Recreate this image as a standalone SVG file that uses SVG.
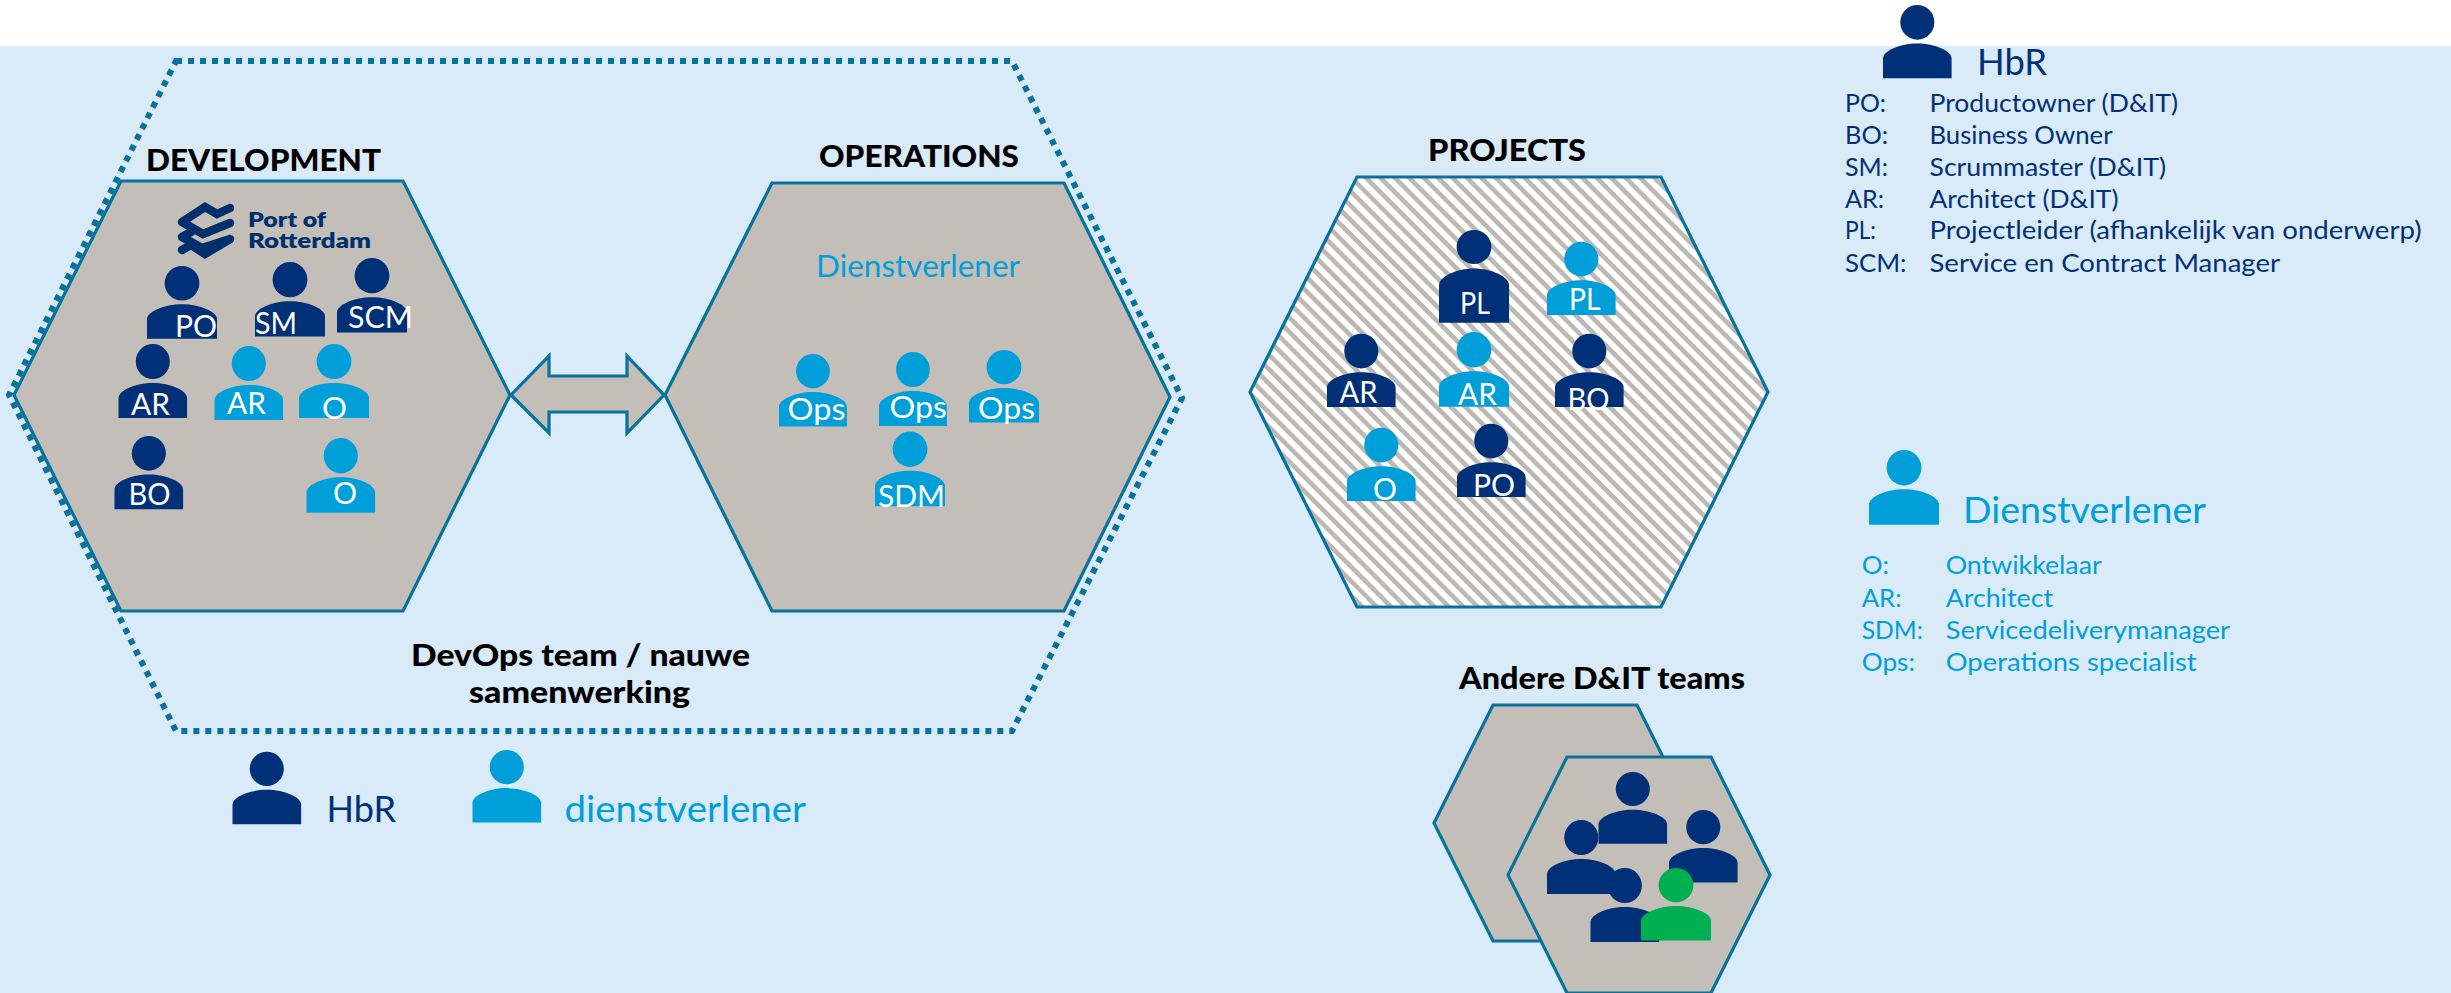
<svg xmlns="http://www.w3.org/2000/svg" width="2451" height="993" viewBox="0 0 2451 993">
<style>
text{font-family:"Lato","Open Sans","Liberation Sans",sans-serif}
.hex{fill:#c3beb8;stroke:#08729c;stroke-width:3.2;stroke-linejoin:miter}
.dark{fill:#003077}
.light{fill:#009fda}
.green{fill:#00b050}
.w{fill:#fff;font-size:30px}
.h{fill:#000;font-size:30px;font-weight:900}
.d{fill:#003077}
.l{fill:#009fda}
.t{font-size:25px}
.b{font-size:37px}
.logo{fill:none;stroke:#00306b;stroke-width:8.5;stroke-linecap:round;stroke-linejoin:miter}
</style>
<defs>
<g id="person"><ellipse cx="35" cy="17.7" rx="17.4" ry="17.7"/><path d="M0 74.7V54.5C0 47 17 39.3 35 39.3S70 47 70 54.5V74.7Z"/></g>
<pattern id="hatch" width="10.2" height="10.2" patternUnits="userSpaceOnUse" patternTransform="translate(1362 177) rotate(-45)"><rect width="10.2" height="10.2" fill="#fff"/><rect width="4.6" height="10.2" fill="#bdb8b2"/></pattern>
</defs>
<rect width="2451" height="993" fill="#d9eaf8"/>
<rect width="2451" height="46" fill="#fff"/>
<g id="devops-team"><polygon points="176,61 1012,61 1182,398 1012,731 176,731 9,395" fill="none" stroke="#08729c" stroke-width="6" stroke-dasharray="6 6"/>
<text class="h" x="411" y="666" textLength="339" lengthAdjust="spacingAndGlyphs">DevOps team / nauwe</text><text class="h" x="469" y="703" textLength="221" lengthAdjust="spacingAndGlyphs">samenwerking</text></g>
<g id="development"><polygon class="hex" points="121,181 403,181 510,395 403,611 121,611 14,395"/><text class="h" x="146" y="171" textLength="235" lengthAdjust="spacingAndGlyphs">DEVELOPMENT</text></g>
<g id="operations"><polygon class="hex" points="772,183 1064,183 1170,397 1064,611 772,611 665,395"/><text class="h" x="819" y="167" textLength="200" lengthAdjust="spacingAndGlyphs">OPERATIONS</text><text class="l" font-size="30" x="816" y="277" textLength="204" lengthAdjust="spacingAndGlyphs">Dienstverlener</text></g>
<g id="connectors"><polygon points="511,395 549,356 549,376 627,376 627,356 664,395 627,433 627,412 549,412 549,433" fill="#c3beb8" stroke="#08729c" stroke-width="3.2"/></g>
<g id="port-of-rotterdam"><path class="logo" d="M182 222L205 207 217 214 230 208M182 222L203 234 230 223M182 237L191 232M182 237L202 248 230 239M182 250L191 245 205 254 230 239"/><text x="248" y="226.5" font-size="21" font-weight="800" fill="#00306b" textLength="78" lengthAdjust="spacingAndGlyphs">Port of</text><text x="248" y="248" font-size="21" font-weight="800" fill="#00306b" textLength="123" lengthAdjust="spacingAndGlyphs">Rotterdam</text></g>
<g id="dev-po"><use href="#person" class="dark" transform="translate(147,266) scale(1,.973)"/><text class="w" x="175" y="336.6" textLength="42" lengthAdjust="spacingAndGlyphs">PO</text></g>
<g id="dev-sm"><use href="#person" class="dark" transform="translate(255,262) scale(1,.998)"/><text class="w" x="255" y="333.5" textLength="42" lengthAdjust="spacingAndGlyphs">SM</text></g>
<g id="dev-scm"><use href="#person" class="dark" transform="translate(337,258) scale(1,.998)"/><text class="w" x="348" y="328" textLength="65" lengthAdjust="spacingAndGlyphs">SCM</text></g>
<g id="dev-ar1"><use href="#person" class="dark" transform="translate(118.5,344) scale(.98,.99)"/><text class="w" x="131" y="415" textLength="39" lengthAdjust="spacingAndGlyphs">AR</text></g>
<g id="dev-ar2"><use href="#person" class="light" transform="translate(214.5,346) scale(.98,.99)"/><text class="w" x="227" y="413.5" textLength="39" lengthAdjust="spacingAndGlyphs">AR</text></g>
<g id="dev-o1"><use href="#person" class="light" transform="translate(299,344) scale(1,.99)"/><text class="w" x="322" y="419" textLength="25" lengthAdjust="spacingAndGlyphs">O</text></g>
<g id="dev-bo"><use href="#person" class="dark" transform="translate(114.5,436) scale(.98,.98)"/><text class="w" x="128.5" y="505" textLength="42" lengthAdjust="spacingAndGlyphs">BO</text></g>
<g id="dev-o2"><use href="#person" class="light" transform="translate(306.5,438) scale(.98,1)"/><text class="w" x="333" y="504" textLength="24" lengthAdjust="spacingAndGlyphs">O</text></g>
<g id="ops-1"><use href="#person" class="light" transform="translate(779,354) scale(.97,.97)"/><text class="w" x="787.5" y="420" textLength="58" lengthAdjust="spacingAndGlyphs">Ops</text></g>
<g id="ops-2"><use href="#person" class="light" transform="translate(879,352) scale(.97,.99)"/><text class="w" x="889.5" y="418" textLength="57.5" lengthAdjust="spacingAndGlyphs">Ops</text></g>
<g id="ops-3"><use href="#person" class="light" transform="translate(969,350) scale(1,.97)"/><text class="w" x="978" y="419" textLength="57" lengthAdjust="spacingAndGlyphs">Ops</text></g>
<g id="ops-sdm"><use href="#person" class="light" transform="translate(875,431.5) scale(1,1)"/><text class="w" x="878" y="507" textLength="67" lengthAdjust="spacingAndGlyphs">SDM</text></g>
<g id="projects"><polygon class="hex" points="1357,177 1661,177 1768,392 1661,607 1357,607 1250,392" style="fill:url(#hatch)"/><text class="h" x="1428" y="161" textLength="158" lengthAdjust="spacingAndGlyphs">PROJECTS</text></g>
<g id="prj-pl1"><ellipse class="dark" cx="1474" cy="247" rx="17.4" ry="17"/><path class="dark" d="M1439 322.7V285C1439 277 1456 268.5 1474 268.5S1509 277 1509 285V322.7Z"/><text class="w" x="1460" y="314" textLength="30" lengthAdjust="spacingAndGlyphs">PL</text></g>
<g id="prj-pl2"><use href="#person" class="light" transform="translate(1547,241.7) scale(.98,.98)"/><text class="w" x="1569" y="310" textLength="31.5" lengthAdjust="spacingAndGlyphs">PL</text></g>
<g id="prj-ar1"><use href="#person" class="dark" transform="translate(1327,333.7) scale(.98,.98)"/><text class="w" x="1339.5" y="402.7" textLength="38" lengthAdjust="spacingAndGlyphs">AR</text></g>
<g id="prj-ar2"><use href="#person" class="light" transform="translate(1439,332) scale(1,1)"/><text class="w" x="1458" y="405" textLength="39" lengthAdjust="spacingAndGlyphs">AR</text></g>
<g id="prj-bo"><use href="#person" class="dark" transform="translate(1555,333.7) scale(.98,.98)"/><text class="w" x="1567.5" y="410" textLength="42" lengthAdjust="spacingAndGlyphs">BO</text></g>
<g id="prj-o"><use href="#person" class="light" transform="translate(1347,427.7) scale(.98,.98)"/><text class="w" x="1373" y="500" textLength="24" lengthAdjust="spacingAndGlyphs">O</text></g>
<g id="prj-po"><use href="#person" class="dark" transform="translate(1457,423.7) scale(.98,.98)"/><text class="w" x="1473" y="496" textLength="42" lengthAdjust="spacingAndGlyphs">PO</text></g>
<g id="other-teams"><text class="h" x="1459" y="689" textLength="286" lengthAdjust="spacingAndGlyphs">Andere D&amp;IT teams</text><polygon class="hex" points="1493,705 1637,705 1696,823 1637,941 1493,941 1434,823"/><polygon class="hex" points="1567,757 1711,757 1770,875 1711,993 1567,993 1508,875"/>
<use href="#person" class="dark" transform="translate(1598.5,772) scale(.98,.96)"/><use href="#person" class="dark" transform="translate(1547,820) scale(.98,.99)"/><use href="#person" class="dark" transform="translate(1669,810) scale(.98,.97)"/><use href="#person" class="dark" transform="translate(1590.5,868) scale(.98,.99)"/><use href="#person" class="green" transform="translate(1641,868) scale(1,.97)"/></g>
<g id="legend-hbr-top"><use href="#person" class="dark" transform="translate(1883,5) scale(.98,.98)"/><text class="d b" x="1977" y="75" textLength="70" lengthAdjust="spacingAndGlyphs">HbR</text>
<text class="d t" x="1845" y="111.7" textLength="41" lengthAdjust="spacingAndGlyphs">PO:</text><text class="d t" x="1929.5" y="111.7" textLength="248.5" lengthAdjust="spacingAndGlyphs">Productowner (D&amp;IT)</text>
<text class="d t" x="1845" y="144" textLength="43" lengthAdjust="spacingAndGlyphs">BO:</text><text class="d t" x="1929.5" y="144" textLength="183" lengthAdjust="spacingAndGlyphs">Business Owner</text>
<text class="d t" x="1845" y="175.7" textLength="43" lengthAdjust="spacingAndGlyphs">SM:</text><text class="d t" x="1929.5" y="175.7" textLength="236.5" lengthAdjust="spacingAndGlyphs">Scrummaster (D&amp;IT)</text>
<text class="d t" x="1845" y="207.7" textLength="39" lengthAdjust="spacingAndGlyphs">AR:</text><text class="d t" x="1929.5" y="207.7" textLength="189" lengthAdjust="spacingAndGlyphs">Architect (D&amp;IT)</text>
<text class="d t" x="1845" y="239.3" textLength="31" lengthAdjust="spacingAndGlyphs">PL:</text><text class="d t" x="1929.5" y="239.3" textLength="492" lengthAdjust="spacingAndGlyphs">Projectleider (afhankelijk van onderwerp)</text>
<text class="d t" x="1845" y="271.7" textLength="61.5" lengthAdjust="spacingAndGlyphs">SCM:</text><text class="d t" x="1929.5" y="271.7" textLength="350.5" lengthAdjust="spacingAndGlyphs">Service en Contract Manager</text></g>
<g id="legend-dienstverlener"><use href="#person" class="light" transform="translate(1869,450)"/><text class="l b" x="1963" y="522.7" textLength="243" lengthAdjust="spacingAndGlyphs">Dienstverlener</text>
<text class="l t" x="1861.7" y="574.3" textLength="27.3" lengthAdjust="spacingAndGlyphs">O:</text><text class="l t" x="1945.7" y="574.3" textLength="156" lengthAdjust="spacingAndGlyphs">Ontwikkelaar</text>
<text class="l t" x="1861.7" y="606.7" textLength="40" lengthAdjust="spacingAndGlyphs">AR:</text><text class="l t" x="1945.7" y="606.7" textLength="107.3" lengthAdjust="spacingAndGlyphs">Architect</text>
<text class="l t" x="1861.7" y="639" textLength="61.3" lengthAdjust="spacingAndGlyphs">SDM:</text><text class="l t" x="1945.7" y="639" textLength="284.3" lengthAdjust="spacingAndGlyphs">Servicedeliverymanager</text>
<text class="l t" x="1861.7" y="670.7" textLength="53.3" lengthAdjust="spacingAndGlyphs">Ops:</text><text class="l t" x="1945.7" y="670.7" textLength="251" lengthAdjust="spacingAndGlyphs">Operations specialist</text></g>
<g id="legend-hbr-bottom"><use href="#person" class="dark" transform="translate(232.5,751.7) scale(.98,.97)"/><text class="d b" x="326.5" y="822" textLength="69.5" lengthAdjust="spacingAndGlyphs">HbR</text></g>
<g id="legend-dienstverlener-bottom"><use href="#person" class="light" transform="translate(472.5,750) scale(.98,.97)"/><text class="l b" x="564.5" y="822" textLength="241.5" lengthAdjust="spacingAndGlyphs">dienstverlener</text></g>
</svg>
